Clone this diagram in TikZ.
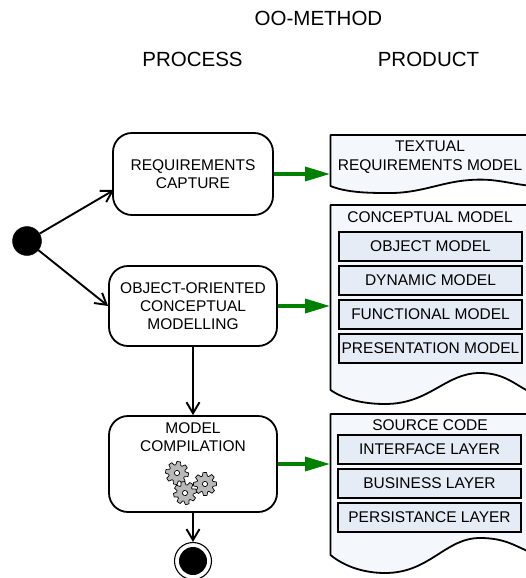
\documentclass[tikz,border=0pt]{standalone}
\usepackage{fontspec}
\setmainfont{Liberation Sans}
\usetikzlibrary{arrows.meta}
\definecolor{docfill}{HTML}{F4F7FC}
\definecolor{boxfill}{HTML}{E6ECF6}
\definecolor{flowgreen}{HTML}{008000}
\tikzset{
  head/.style={font=\fontsize{20.5}{24}\selectfont,anchor=center},
  activity/.style={draw=black,line width=1.8pt,rounded corners=19pt,fill=white,align=center,inner sep=0pt,font=\fontsize{15.5}{18}\selectfont},
  docshape/.style={draw=black,line width=1.8pt,fill=docfill,line join=round},
  inner/.style={draw=black,line width=2pt,fill=boxfill,minimum width=183pt,minimum height=29pt,inner sep=0pt,font=\fontsize{15.5}{18}\selectfont},
  doclabel/.style={align=center,inner sep=0pt,font=\fontsize{15.5}{18.5}\selectfont},
  flow/.style={-{Straight Barb[length=11pt,width=13pt,line width=1.9pt]},line width=1.9pt,black},
  produces/.style={-{Triangle[length=25pt,width=14pt]},line width=3.4pt,flowgreen},
  gearshape/.style={draw=black,line width=0.7pt,fill=black!28},
}
\newcommand{\gearat}[4]{% x y radius rot
  \begin{scope}[shift={(#1,#2)},rotate=#4]
    \draw[gearshape] plot[samples at={0,...,39},variable=\k]
      ({(#3)*(mod(\k,5)<2.5?1:0.72)*cos(9*\k)},{(#3)*(mod(\k,5)<2.5?1:0.72)*sin(9*\k)}) -- cycle;
    \draw[black,line width=0.7pt,fill=white] (0,0) circle[radius=2.6];
  \end{scope}}
\begin{document}
\begin{tikzpicture}[x=1pt,y=-1pt]
\useasboundingbox (0,0) rectangle (526,578);
\node[head] (title) at (318.5,18) {OO-METHOD};
\node[head] (process) at (192.5,59) {PROCESS};
\node[head] (product) at (428.5,59) {PRODUCT};

% activities
\node[activity,minimum width=160pt,minimum height=82pt] (req) at (193,174) {REQUIREMENTS\\CAPTURE};
\node[activity,minimum width=168pt,minimum height=80pt] (oo) at (193,306) {OBJECT-ORIENTED\\CONCEPTUAL\\MODELLING};
\node[activity,minimum width=168pt,minimum height=96pt] (model) at (193,464) {};
\node[doclabel] (modeltxt) at (193,437) {MODEL\\COMPILATION};
\gearat{177}{473}{11.5}{0}
\gearat{205}{484}{11.5}{10}
\gearat{185}{493}{11.5}{20}

% start and end
\node[circle,fill=black,draw=black,minimum size=29pt,inner sep=0pt] (start) at (27,241) {};
\node[circle,draw=black,line width=1.1pt,fill=white,minimum size=37pt,inner sep=0pt] (endo) at (193,561) {};
\node[circle,fill=black,minimum size=28pt,inner sep=0pt] (endi) at (193,561) {};

% documents
\draw[docshape] (330.5,135) -- (532,135) -- (532,186) .. controls (510,184) and (495,178) .. (470,180)
  .. controls (440,182) and (420,194) .. (385,193) .. controls (365,193) and (345,192) .. (330.5,186) -- cycle;
\draw[docshape] (330.5,205) -- (532,205) -- (532,393) .. controls (515,385) and (505,373) .. (480,373)
  .. controls (445,373) and (430,404) .. (385,404) .. controls (365,404) and (345,400) .. (330.5,390) -- cycle;
\draw[docshape] (330.5,414) -- (532,414) -- (532,553) .. controls (515,546) and (505,538) .. (480,538)
  .. controls (445,538) and (430,573) .. (385,573) .. controls (365,573) and (345,567) .. (330.5,555) -- cycle;
\coordinate (doca) at (330,174);
\coordinate (docb) at (330,306);
\coordinate (docc) at (330,464);
\coordinate (reqin) at (114,190);

\node[doclabel] (t1) at (430,157) {TEXTUAL\\REQUIREMENTS MODEL};
\node[doclabel] (t2) at (430,217.5) {CONCEPTUAL MODEL};
\node[inner] (b1) at (430.5,246.5) {OBJECT MODEL};
\node[inner] (b2) at (430.5,280.5) {DYNAMIC MODEL};
\node[inner] (b3) at (430.5,314.5) {FUNCTIONAL MODEL};
\node[inner] (b4) at (430.5,348.5) {PRESENTATION MODEL};
\node[doclabel] (t3) at (430,425.5) {SOURCE CODE};
\node[inner] (c1) at (429.5,449.5) {INTERFACE LAYER};
\node[inner] (c2) at (429.5,483.5) {BUSINESS LAYER};
\node[inner] (c3) at (429.5,517) {PERSISTANCE LAYER};

% connectors
\draw[flow] (start) -- (reqin);
\draw[flow] (start) -- (oo.west);
\draw[flow] (oo.south) -- (model.north);
\draw[flow] (model.south) -- (endo.north);
\draw[produces] (req.east) -- (doca);
\draw[produces] (oo.east) -- (docb);
\draw[produces] (model.east) -- (docc);
\end{tikzpicture}
\end{document}
